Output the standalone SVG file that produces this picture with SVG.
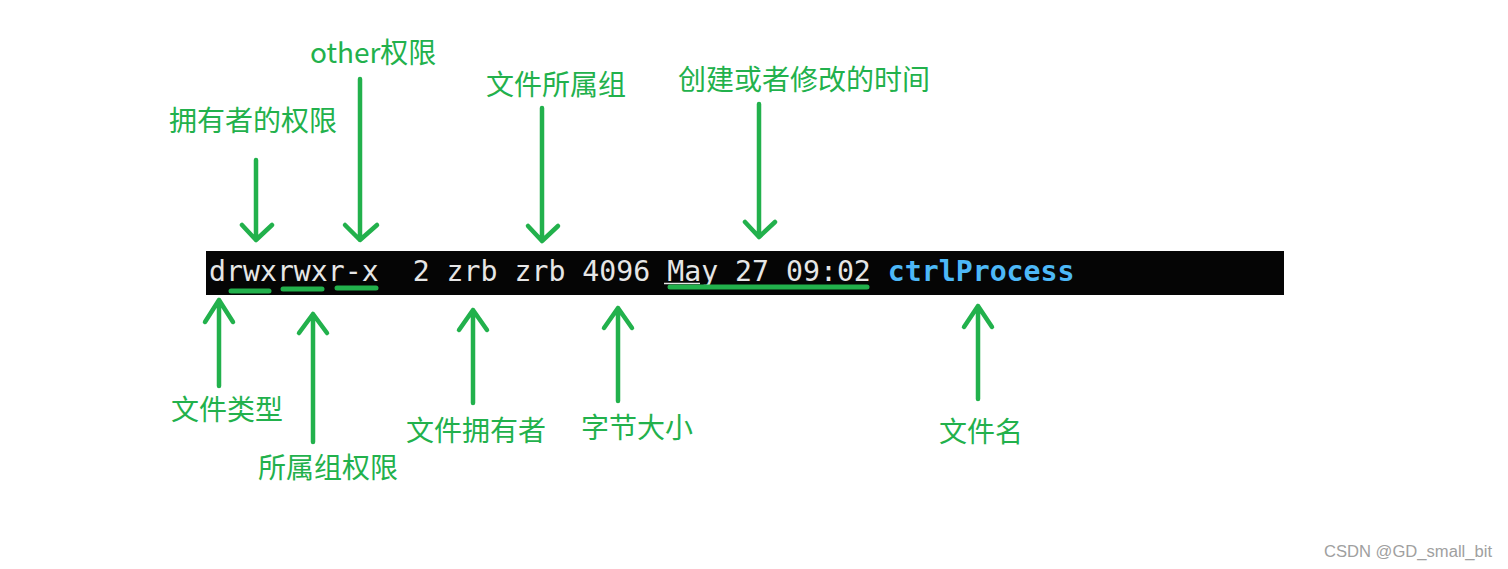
<svg xmlns="http://www.w3.org/2000/svg" width="1508" height="569" viewBox="0 0 1508 569">
<style>
.lbl{font-family:"Noto Sans CJK SC","Noto Sans",sans-serif;font-size:28px;fill:#22b14c}
.term{font-family:"DejaVu Sans Mono","Liberation Mono",monospace;font-size:28.2px;fill:#e6e6e6;white-space:pre}
.arr{stroke:#22b14c;stroke-width:4.5;fill:none;stroke-linecap:round;stroke-linejoin:round}
.ul{stroke:#22b14c;stroke-width:5;stroke-linecap:round}
</style>
<rect width="1508" height="569" fill="#ffffff"/>
<g id="terminal">
<rect x="206" y="251" width="1078" height="44" fill="#050505"/>
<text class="term" x="209" y="281" xml:space="preserve">drwxrwxr-x  2 zrb zrb 4096 May 27 09:02 <tspan font-weight="bold" fill="#4db8f7">ctrlProcess</tspan></text>
<line x1="664" y1="283.5" x2="700" y2="283.5" stroke="#e6e6e6" stroke-width="1.5"/>
</g>
<g id="underlines">
<line class="ul" x1="231" y1="291" x2="269" y2="291"/>
<line class="ul" x1="283" y1="289" x2="322" y2="289"/>
<line class="ul" x1="337" y1="288" x2="376" y2="288"/>
<line class="ul" x1="670" y1="287" x2="867" y2="287"/>
</g>
<g id="connectors">
<path class="arr" d="M256 160 V240 M242 225 L256 240 L272 225"/>
<path class="arr" d="M360 79 V240 M345 225 L360 240 L377 225"/>
<path class="arr" d="M542 108 V241 M528 226 L542 241 L558 226"/>
<path class="arr" d="M759 104 V237 M745 222 L759 237 L775 222"/>
<path class="arr" d="M219 386 V300 M205 322 L219 300 L233 322"/>
<path class="arr" d="M313 442 V314 M299 333 L313 314 L327 333"/>
<path class="arr" d="M473 403 V310 M459 330 L473 310 L487 330"/>
<path class="arr" d="M618 401 V308 M604 328 L618 308 L632 328"/>
<path class="arr" d="M978 399 V306 M964 327 L978 306 L992 327"/>
</g>
<g id="n-owner-perm"><text class="lbl" x="169" y="131">拥有者的权限</text></g>
<g id="n-other-perm"><text class="lbl" x="310" y="63">other权限</text></g>
<g id="n-group"><text class="lbl" x="486" y="95">文件所属组</text></g>
<g id="n-time"><text class="lbl" x="678" y="90">创建或者修改的时间</text></g>
<g id="n-type"><text class="lbl" x="171" y="420">文件类型</text></g>
<g id="n-group-perm"><text class="lbl" x="258" y="478">所属组权限</text></g>
<g id="n-owner"><text class="lbl" x="406" y="441">文件拥有者</text></g>
<g id="n-size"><text class="lbl" x="581" y="438">字节大小</text></g>
<g id="n-name"><text class="lbl" x="939" y="442">文件名</text></g>
<text x="1324" y="557" textLength="168" lengthAdjust="spacingAndGlyphs" font-family="Liberation Sans, Arial, sans-serif" font-size="16" fill="#a0a0a0">CSDN @GD_small_bit</text>
</svg>
